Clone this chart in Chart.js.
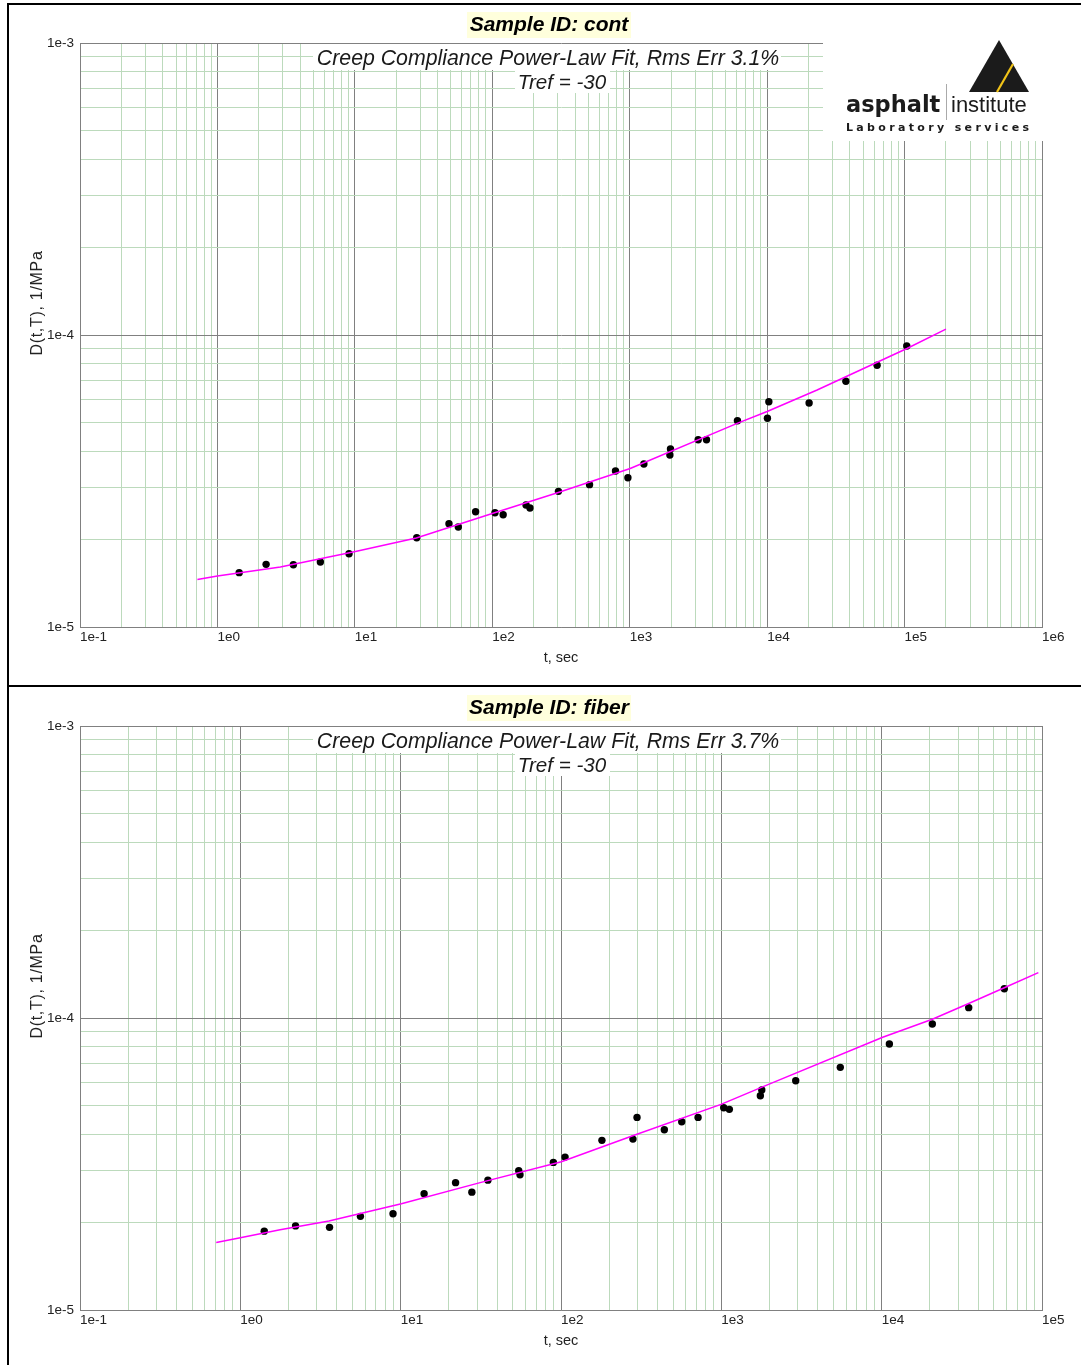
<!DOCTYPE html>
<html>
<head>
<meta charset="utf-8">
<script src="https://cdn.jsdelivr.net/npm/chart.js@4.4.1/dist/chart.umd.min.js"></script>
<style>
  html, body { margin: 0; padding: 0; background: #fff; overflow: hidden; }
  .panel { position: absolute; left: 0; width: 1081px; }
  .rule { position: absolute; background: #000; z-index: 5; }
</style>
</head>
<body>
<div class="panel" style="top:0;height:686px"><canvas id="chartCont"></canvas></div>
<div class="panel" style="top:686px;height:679px"><canvas id="chartFiber"></canvas></div>
<div class="rule" style="left:7px;top:3px;width:2px;height:1362px"></div>
<div class="rule" style="left:7px;top:3px;width:1074px;height:2px"></div>
<div class="rule" style="left:7px;top:685px;width:1074px;height:2px"></div>

<script>
// ---- data ----
// sample "cont"
const contTime = [1.44, 2.26, 3.57, 5.61, 9.07, 28.2, 48.4, 56.6, 75.6, 104.6, 120, 176, 188, 303, 510,
  788, 970, 1268, 1980, 1960, 3150, 3620, 6080, 10290, 10050, 20200, 37400, 63100, 103700];
const contD = [1.535e-5, 1.639e-5, 1.634e-5, 1.669e-5, 1.782e-5, 2.022e-5, 2.259e-5, 2.201e-5, 2.482e-5, 2.462e-5,
  2.424e-5, 2.617e-5, 2.556e-5, 2.915e-5, 3.072e-5, 3.421e-5, 3.246e-5, 3.616e-5, 4.071e-5, 3.882e-5,
  4.38e-5, 4.38e-5, 5.088e-5, 5.908e-5, 5.185e-5, 5.852e-5, 6.941e-5, 7.875e-5, 9.17e-5];
const contFitTime = [0.715, 1, 2.87, 10.1, 28, 100, 302, 1008, 6050, 10000, 23100, 104000, 200000];
const contFitD = [1.455e-5, 1.495e-5, 1.605e-5, 1.814e-5, 2.017e-5, 2.447e-5, 2.888e-5, 3.489e-5, 4.98e-5,
  5.47e-5, 6.48e-5, 8.99e-5, 1.048e-4];

// sample "fiber"
const fiberTime = [1.41, 2.21, 3.6, 5.61, 8.96, 14.0, 22.0, 27.8, 35.0, 54.5, 55.5, 89.6, 106, 180, 281,
  298, 441, 566, 716, 1035, 1122, 1751, 1787, 2910, 5520, 11170, 20700, 34900, 58200];
const fiberD = [1.862e-5, 1.941e-5, 1.919e-5, 2.093e-5, 2.135e-5, 2.503e-5, 2.73e-5, 2.533e-5, 2.784e-5,
  2.997e-5, 2.904e-5, 3.202e-5, 3.339e-5, 3.81e-5, 3.848e-5, 4.566e-5, 4.142e-5, 4.411e-5, 4.566e-5,
  4.928e-5, 4.866e-5, 5.416e-5, 5.665e-5, 6.097e-5, 6.776e-5, 8.144e-5, 9.537e-5, 1.085e-4, 1.26e-4];
const fiberFitTime = [0.7075, 1, 1.77, 3.57, 10.1, 31.3, 100.5, 283, 995, 1920, 10150, 20700, 34900, 58200, 94900];
const fiberFitD = [1.703e-5, 1.768e-5, 1.883e-5, 2.018e-5, 2.313e-5, 2.73e-5, 3.218e-5, 3.957e-5, 5.06e-5,
  5.89e-5, 8.59e-5, 9.9e-5, 1.121e-4, 1.269e-4, 1.43e-4];

// axis tick labels
const contXTicks = ["1e-1", "1e0", "1e1", "1e2", "1e3", "1e4", "1e5", "1e6"];
const fiberXTicks = ["1e-1", "1e0", "1e1", "1e2", "1e3", "1e4", "1e5"];
const yTicks = ["1e-5", "1e-4", "1e-3"];

const FONT = '"Liberation Sans", Arial, sans-serif';
const MAJOR = "#808080";
const MINOR = "#bcdabc";

function isDecade(v){
    const l = Math.log10(v);
    return Math.abs(l - Math.round(l)) < 1e-9;
}

// 1..9 in every decade, plus the last decade
function logTicks(labels){
    const dec = labels.map(Number);
    const out = [];
    dec.forEach((d, i) => {
        if (i === dec.length - 1) { out.push(d); return; }
        for (let k = 1; k < 10; k++) out.push(d * k);
    });
    return out;
}

function tickLabel(labels){
    return v => {
        if (!isDecade(v)) return "";
        const hit = labels.find(l => Math.abs(Math.log10(Number(l)) - Math.log10(v)) < 1e-9);
        return hit || "";
    };
}

function pts(xs, ys){ return xs.map((x, i) => ({x, y: ys[i]})); }

// white boxes, titles, logo
const decor = {
    id: "decor",
    beforeDatasetsDraw(chart, args, o){
        const ctx = chart.ctx, a = chart.chartArea;
        ctx.save();
        ctx.fillStyle = "#fff";
        ctx.fillRect(313, a.top + 1, 468, 26);
        ctx.fillRect(515, a.top + 27, 95, 23);
        if (o.logo) ctx.fillRect(823, a.top - 4, 224, 102);
        ctx.restore();
    },
    afterDraw(chart, args, o){
        const ctx = chart.ctx, a = chart.chartArea;
        ctx.save();
        // sample id
        ctx.fillStyle = "#ffffdc";
        ctx.fillRect(467, a.top - 31, 164, 26);
        ctx.fillStyle = "#000";
        ctx.font = "bold italic 21px " + FONT;
        ctx.textAlign = "center";
        ctx.textBaseline = "middle";
        ctx.fillText(o.sample, 549, a.top - 18);
        // fit info
        ctx.fillStyle = "#1a1a1a";
        ctx.font = "italic 21.3px " + FONT;
        ctx.fillText(o.fit, 548, a.top + 16);
        ctx.font = "italic 20.6px " + FONT;
        ctx.fillText(o.tref, 562, a.top + 40);
        // y title
        ctx.save();
        ctx.translate(38, a.top + 260);
        ctx.rotate(-Math.PI / 2);
        ctx.font = "16px " + FONT;
        ctx.letterSpacing = "0.7px";
        ctx.fillStyle = "#222";
        ctx.fillText("D(t,T), 1/MPa", 0, 0);
        ctx.restore();
        if (o.logo) drawLogo(ctx, a.top);
        ctx.restore();
    }
};

function drawLogo(ctx, top){
    const y0 = top - 3;
    ctx.fillStyle = "#1b1b1b";
    ctx.beginPath();
    ctx.moveTo(999, y0);
    ctx.lineTo(1029, y0 + 52);
    ctx.lineTo(969, y0 + 52);
    ctx.closePath();
    ctx.fill();
    ctx.strokeStyle = "#f2c418";
    ctx.lineWidth = 2.2;
    ctx.beginPath();
    ctx.moveTo(997, y0 + 52);
    ctx.lineTo(1013, y0 + 24);
    ctx.stroke();

    ctx.textAlign = "left";
    ctx.textBaseline = "alphabetic";
    ctx.fillStyle = "#1b1b1b";
    ctx.font = 'bold 22.5px "DejaVu Sans", sans-serif';
    ctx.fillText("asphalt", 846, y0 + 72);
    ctx.font = "22px " + FONT;
    ctx.fillText("institute", 951, y0 + 72);
    ctx.strokeStyle = "#aaa";
    ctx.lineWidth = 1;
    ctx.beginPath();
    ctx.moveTo(946.5, y0 + 44);
    ctx.lineTo(946.5, y0 + 80);
    ctx.stroke();

    const s = "Laboratory services";
    ctx.font = 'bold 11px "DejaVu Sans", sans-serif';
    const natural = ctx.measureText(s).width;
    const gap = (183 - natural) / (s.length - 1);
    let x = 846;
    for (const ch of s){
        ctx.fillText(ch, x, y0 + 91);
        x += ctx.measureText(ch).width + gap;
    }
}

function makeChart(id, cfg){
    const xVals = logTicks(cfg.xTicks);
    const yVals = logTicks(yTicks);
    return new Chart(document.getElementById(id), {
        type: "scatter",
        data: {
            datasets: [
                {
                    data: pts(cfg.fitT, cfg.fitD),
                    showLine: true,
                    borderColor: "#ff00ff",
                    borderWidth: 1.5,
                    pointRadius: 0,
                    tension: 0
                },
                {
                    data: pts(cfg.t, cfg.d),
                    backgroundColor: "#000",
                    borderWidth: 0,
                    pointRadius: 3.7
                }
            ]
        },
        options: {
            responsive: true,
            maintainAspectRatio: false,
            animation: false,
            layout: { padding: { left: 0, right: 39, top: cfg.top, bottom: 0 } },
            plugins: {
                legend: { display: false },
                tooltip: { enabled: false },
                decor: { sample: cfg.sample, fit: cfg.fit, tref: "Tref = -30", logo: cfg.logo }
            },
            scales: {
                x: {
                    type: "logarithmic",
                    min: Number(cfg.xTicks[0]),
                    max: Number(cfg.xTicks[cfg.xTicks.length - 1]),
                    afterBuildTicks: s => { s.ticks = xVals.map(v => ({value: v})); },
                    afterFit: s => { s.height = cfg.h - cfg.bottom; },
                    grid: { color: c => isDecade(c.tick.value) ? MAJOR : MINOR, lineWidth: 1, drawTicks: false },
                    border: { color: MAJOR, width: 1 },
                    ticks: {
                        autoSkip: false, maxRotation: 0, minRotation: 0, align: "start", padding: 2,
                        color: "#222", font: { family: FONT, size: 13.5 },
                        callback: tickLabel(cfg.xTicks)
                    },
                    title: {
                        display: true, text: "t, sec", color: "#222",
                        font: { family: FONT, size: 14.5 },
                        padding: { top: 0, bottom: cfg.h - cfg.bottom - 31 - 8.7 }
                    }
                },
                y: {
                    type: "logarithmic",
                    min: Number(yTicks[0]),
                    max: Number(yTicks[yTicks.length - 1]),
                    afterBuildTicks: s => { s.ticks = yVals.map(v => ({value: v})); },
                    afterFit: s => { s.width = 80; },
                    grid: { color: c => isDecade(c.tick.value) ? MAJOR : MINOR, lineWidth: 1, drawTicks: false },
                    border: { color: MAJOR, width: 1 },
                    ticks: {
                        autoSkip: false, padding: 6,
                        color: "#222", font: { family: FONT, size: 13.5 },
                        callback: tickLabel(yTicks)
                    }
                }
            }
        },
        plugins: [decor]
    });
}

makeChart("chartCont", {
    t: contTime, d: contD, fitT: contFitTime, fitD: contFitD,
    xTicks: contXTicks, sample: "Sample ID: cont",
    fit: "Creep Compliance Power-Law Fit, Rms Err 3.1%",
    logo: true, h: 686, top: 43, bottom: 627
});

makeChart("chartFiber", {
    t: fiberTime, d: fiberD, fitT: fiberFitTime, fitD: fiberFitD,
    xTicks: fiberXTicks, sample: "Sample ID: fiber",
    fit: "Creep Compliance Power-Law Fit, Rms Err 3.7%",
    logo: false, h: 679, top: 40, bottom: 624
});
</script>
</body>
</html>
